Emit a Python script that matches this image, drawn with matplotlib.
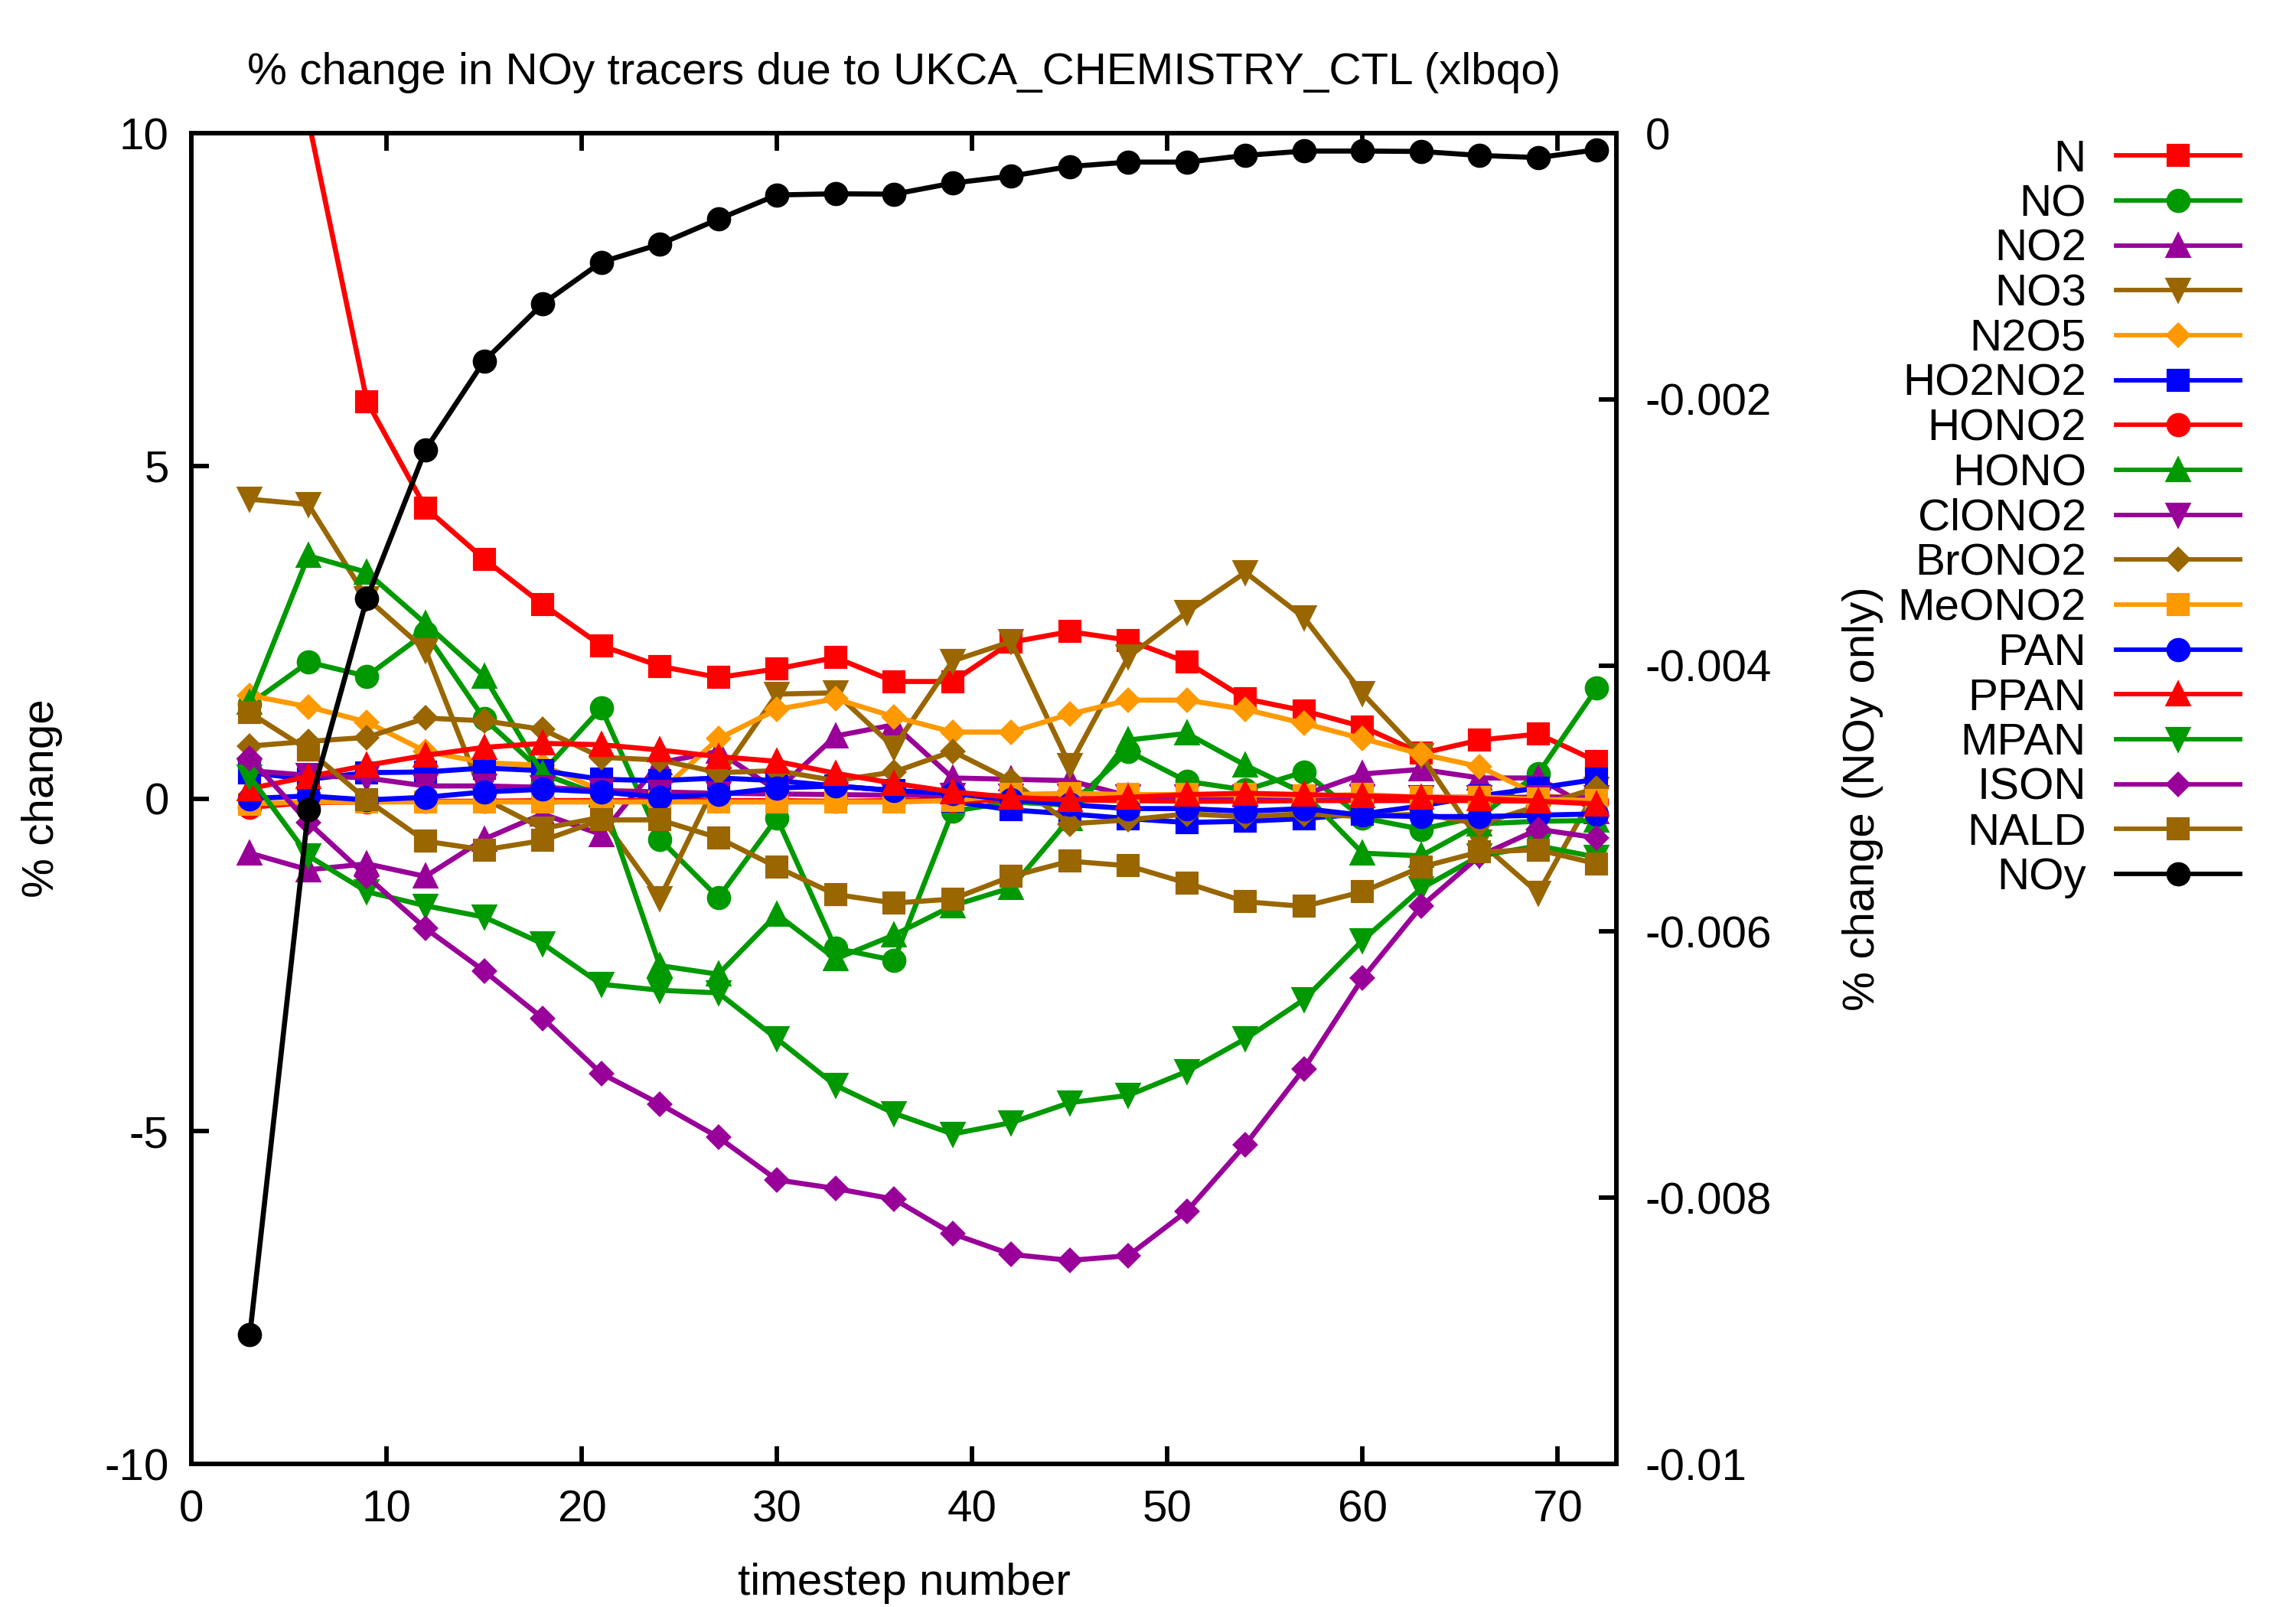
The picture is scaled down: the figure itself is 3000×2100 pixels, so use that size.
import matplotlib
matplotlib.use("Agg")
import matplotlib.pyplot as plt
from matplotlib.ticker import FixedLocator, FuncFormatter

plt.rcParams['font.family'] = ['Liberation Sans', 'DejaVu Sans']
plt.rcParams['axes.unicode_minus'] = False

# ---------------- data ----------------
timestep = [3, 6, 9, 12, 15, 18, 21, 24, 27, 30, 33, 36,
            39, 42, 45, 48, 51, 54, 57, 60, 63, 66, 69, 72]

N = [21.0, 10.2, 5.97, 4.37, 3.60, 2.92, 2.30, 1.99, 1.82, 1.95, 2.12, 1.76,
     1.76, 2.35, 2.51, 2.38, 2.05, 1.50, 1.32, 1.08, 0.68, 0.88, 0.97, 0.56]
NO = [1.42, 2.05, 1.84, 2.49, 1.20, 0.40, 1.36, -0.61, -1.49, -0.29, -2.25, -2.43,
      -0.19, -0.05, -0.10, 0.71, 0.26, 0.13, 0.40, -0.29, -0.46, -0.27, 0.38, 1.66]
NO2 = [-0.82, -1.07, -0.98, -1.17, -0.61, -0.23, -0.54, 0.54, 0.71, 0.12, 0.94, 1.11,
       0.31, 0.29, 0.27, 0.04, 0.04, 0.05, 0.06, 0.37, 0.44, 0.31, 0.31, -0.20]
NO3 = [4.50, 4.42, 3.01, 2.23, 0.00, -0.45, -0.28, -1.50, 0.30, 1.57, 1.59, 0.77,
       2.07, 2.36, 0.50, 2.13, 2.80, 3.40, 2.72, 1.58, 0.65, -0.65, -1.42, 0.15]
N2O5 = [1.55, 1.38, 1.15, 0.71, 0.54, 0.50, 0.12, 0.10, 0.90, 1.34, 1.50, 1.23,
        1.00, 1.00, 1.27, 1.48, 1.48, 1.34, 1.13, 0.90, 0.67, 0.48, 0.05, -0.02]
HO2NO2 = [0.39, 0.29, 0.39, 0.40, 0.46, 0.42, 0.29, 0.27, 0.31, 0.27, 0.19, 0.12,
          -0.04, -0.17, -0.23, -0.30, -0.36, -0.34, -0.30, -0.23, -0.11, 0.04, 0.16, 0.29]
HONO2 = [-0.13, -0.06, -0.05, -0.04, -0.04, -0.03, -0.03, -0.03, -0.03, -0.03, -0.04, -0.03,
         -0.03, -0.02, -0.02, -0.03, -0.04, -0.04, -0.03, -0.03, -0.03, -0.03, -0.04, -0.05]
HONO = [1.45, 3.65, 3.40, 2.63, 1.84, 0.37, 0.05, -2.51, -2.64, -1.74, -2.41, -2.05,
        -1.61, -1.34, -0.30, 0.88, 0.98, 0.50, 0.08, -0.82, -0.86, -0.38, -0.34, -0.33]
ClONO2 = [0.42, 0.35, 0.31, 0.19, 0.19, 0.17, 0.12, 0.10, 0.08, 0.07, 0.06, 0.05,
          0.05, 0.04, 0.04, 0.03, 0.03, 0.03, 0.03, 0.03, 0.02, 0.02, 0.02, 0.02]
BrONO2 = [0.79, 0.86, 0.92, 1.21, 1.17, 1.04, 0.62, 0.58, 0.39, 0.42, 0.27, 0.40,
          0.71, 0.27, -0.38, -0.32, -0.23, -0.27, -0.23, -0.27, -0.23, -0.38, -0.11, 0.16]
MeONO2 = [-0.08, -0.05, -0.05, -0.05, -0.05, -0.05, -0.05, -0.05, -0.05, -0.05, -0.05, -0.05,
          -0.03, 0.06, 0.08, 0.06, 0.06, 0.06, 0.04, 0.06, 0.02, 0.02, -0.01, -0.03]
PAN = [0.00, 0.04, -0.02, 0.02, 0.10, 0.14, 0.10, 0.02, 0.06, 0.16, 0.19, 0.12,
       0.08, -0.02, -0.09, -0.15, -0.15, -0.19, -0.15, -0.25, -0.27, -0.27, -0.25, -0.23]
PPAN = [0.15, 0.33, 0.50, 0.65, 0.77, 0.83, 0.81, 0.73, 0.63, 0.56, 0.38, 0.23,
        0.10, 0.02, -0.02, 0.02, 0.06, 0.08, 0.06, 0.04, 0.02, 0.00, -0.04, -0.08]
MPAN = [0.33, -0.86, -1.40, -1.61, -1.78, -2.18, -2.79, -2.88, -2.92, -3.61, -4.31, -4.73,
        -5.04, -4.87, -4.57, -4.46, -4.10, -3.61, -3.02, -2.13, -1.35, -0.86, -0.71, -0.88]
ISON = [0.61, -0.36, -1.17, -1.95, -2.59, -3.30, -4.13, -4.59, -5.09, -5.73, -5.86, -6.02,
        -6.54, -6.85, -6.94, -6.87, -6.20, -5.20, -4.06, -2.70, -1.62, -0.86, -0.46, -0.59]
NALD = [1.29, 0.73, -0.02, -0.64, -0.77, -0.63, -0.32, -0.32, -0.59, -1.03, -1.44, -1.57,
        -1.51, -1.17, -0.94, -1.01, -1.27, -1.55, -1.62, -1.40, -1.03, -0.80, -0.77, -0.98]
NOy = [-0.00903, -0.00508, -0.003494, -0.002378, -0.001712, -0.001282, -0.000969, -0.000834,
       -0.000646, -0.000464, -0.000455, -0.000458, -0.000375, -0.000322, -0.00025, -0.000217,
       -0.000217, -0.000167, -0.000134, -0.000134, -0.000137, -0.000167, -0.000183, -0.000124]

tracer_names = ["N", "NO", "NO2", "NO3", "N2O5", "HO2NO2", "HONO2", "HONO",
                "ClONO2", "BrONO2", "MeONO2", "PAN", "PPAN", "MPAN", "ISON", "NALD"]
tracer_values = [N, NO, NO2, NO3, N2O5, HO2NO2, HONO2, HONO,
                 ClONO2, BrONO2, MeONO2, PAN, PPAN, MPAN, ISON, NALD]

x_ticks = [0, 10, 20, 30, 40, 50, 60, 70]
y_ticks = [-10, -5, 0, 5, 10]
y2_ticks = [-0.01, -0.008, -0.006, -0.004, -0.002, 0]

title = "% change in NOy tracers due to UKCA_CHEMISTRY_CTL (xlbqo)"

# ---------------- styles ----------------
palette = ['#ff0000', '#009900', '#990099', '#996600', '#ff9900', '#0000ff']
markers = ['s', 'o', '^', 'v', 'D']
msizes = {'s': 6.4, 'o': 6.6, '^': 6.6, 'v': 6.6, 'D': 4.6}
LW = 1.6
FS = 14

fig = plt.figure(figsize=(10, 7), dpi=300)
ax = fig.add_axes([0.0833, 0.0890, 0.6207, 0.8281])
ax2 = ax.twinx()

handles = []
for i, (name, vals) in enumerate(zip(tracer_names, tracer_values)):
    m = markers[i % 5]
    h, = ax.plot(timestep, vals, color=palette[i % 6], marker=m, markersize=msizes[m],
                 linewidth=LW, label=name, clip_on=True)
    handles.append(h)

h, = ax2.plot(timestep, NOy, color='black', marker='o', markersize=6.6,
              linewidth=LW, label="NOy")
handles.append(h)

ax.set_xlim(0, 73)
ax.set_ylim(-10, 10)
ax2.set_ylim(-0.01, 0)

ax.xaxis.set_major_locator(FixedLocator(x_ticks))
ax.yaxis.set_major_locator(FixedLocator(y_ticks))
ax2.yaxis.set_major_locator(FixedLocator(y2_ticks))
ax.yaxis.set_major_formatter(FuncFormatter(lambda v, p: '%g' % v))
ax.xaxis.set_major_formatter(FuncFormatter(lambda v, p: '%g' % v))
ax2.yaxis.set_major_formatter(FuncFormatter(lambda v, p: '%g' % v))

for a in (ax, ax2):
    for s in a.spines.values():
        s.set_linewidth(1.4)

ax.tick_params(axis='x', which='both', direction='in', top=True, bottom=True,
               length=5.5, width=1.4, labelsize=FS, pad=8)
ax.tick_params(axis='y', which='both', direction='in', left=True, right=False,
               length=5.5, width=1.4, labelsize=FS, pad=7)
ax2.tick_params(axis='y', which='both', direction='in', right=True, left=False,
                length=5.5, width=1.4, labelsize=FS, pad=9)

ax.set_xlabel("timestep number", fontsize=FS, labelpad=10)
ax.set_ylabel("% change", fontsize=FS, labelpad=13)
ax2.set_ylabel("% change (NOy only)", fontsize=FS, labelpad=22)
ax.set_title(title, fontsize=FS, pad=15.5)

leg = fig.legend(handles=handles, loc='upper right', bbox_to_anchor=(0.9757, 0.9135),
                 frameon=False, markerfirst=False, fontsize=FS, labelspacing=0.08,
                 handlelength=2.78, handletextpad=0.67, borderpad=0, borderaxespad=0,
                 numpoints=1)
for ln in leg.get_lines():
    ln.set_linewidth(1.4)

fig.savefig("out.png", dpi=300)
